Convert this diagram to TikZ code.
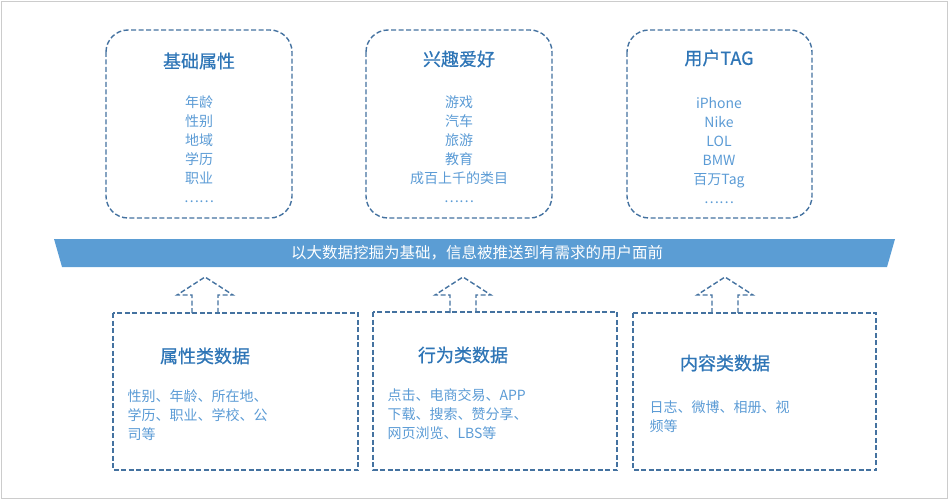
\documentclass[tikz,border=0pt]{standalone}
\usepackage{fontspec}
\setmainfont{Noto Sans CJK SC}
\begin{document}
\begin{tikzpicture}[x=1pt,y=-1pt]
\tikzset{bd/.style={draw={rgb,255:red,68;green,114;blue,160}, dash pattern=on 5pt off 2.5pt, line width=1.4pt},
  topbox/.style={bd, rounded corners=22pt}}
\definecolor{ttlc}{RGB}{46,117,182}
\definecolor{itmc}{RGB}{91,155,213}
\tikzset{ttl/.style={text=ttlc, font=\fontsize{18}{20}\selectfont\addfontfeature{FakeBold=0.6}},
  itm/.style={text=itmc, font=\fontsize{14}{19}\selectfont, align=center},
  bitm/.style={text=itmc, font=\fontsize{14}{19}\selectfont, align=left, text width=220pt}}
\definecolor{bann}{RGB}{91,157,212}
\useasboundingbox (0,0) rectangle (950,500);
\draw[gray!40, line width=0.8pt] (1,1) rectangle (947,498);
% top boxes
\draw[topbox] (106,30) rectangle (292,218);
\draw[topbox] (366,30) rectangle (552,218);
\draw[topbox] (627,30) rectangle (812,218);
\node[ttl] (t1) at (199,61) {基础属性};
\node[itm] (i1) at (199,149) {年龄\\性别\\地域\\学历\\职业\\……};
\node[ttl] (t2) at (459,59) {兴趣爱好};
\node[itm] (i2) at (459,149) {游戏\\汽车\\旅游\\教育\\成百上千的类目\\……};
\node[ttl] (t3) at (719,58) {用户TAG};
\node[itm] (i3) at (719,151) {iPhone\\Nike\\LOL\\BMW\\百万Tag\\……};
% banner
\fill[bann] (54,239) -- (895,239) -- (887,267) -- (62,267) -- cycle;
\node[text=white, font=\fontsize{15.5}{17}\selectfont] (ban) at (477,253) {以大数据挖掘为基础，信息被推送到有需求的用户面前};
% arrows
\foreach \c/\n in {205/a1,463/a2,725/a3}{
  \draw[bd] (\c-13,313) -- (\c-13,295) -- (\c-28,295) -- (\c,277) -- (\c+28,295) -- (\c+13,295) -- (\c+13,313);
}
% bottom boxes
\draw[bd] (113,313) rectangle (358,470);
\draw[bd] (373,312) rectangle (617,470);
\draw[bd] (633,313) rectangle (876,470);
\node[ttl] (b1) at (205,356) {属性类数据};
\node[bitm, anchor=north west] (bi1) at (124,386) {性别、年龄、所在地、\\学历、职业、学校、公\\司等};
\node[ttl] (b2) at (463,355) {行为类数据};
\node[bitm, anchor=north west] (bi2) at (384,385) {点击、电商交易、APP\\下载、搜索、赞分享、\\网页浏览、LBS等};
\node[ttl] (b3) at (725,363) {内容类数据};
\node[bitm, anchor=north west] (bi3) at (646,397) {日志、微博、相册、视\\频等};
\end{tikzpicture}
\end{document}
